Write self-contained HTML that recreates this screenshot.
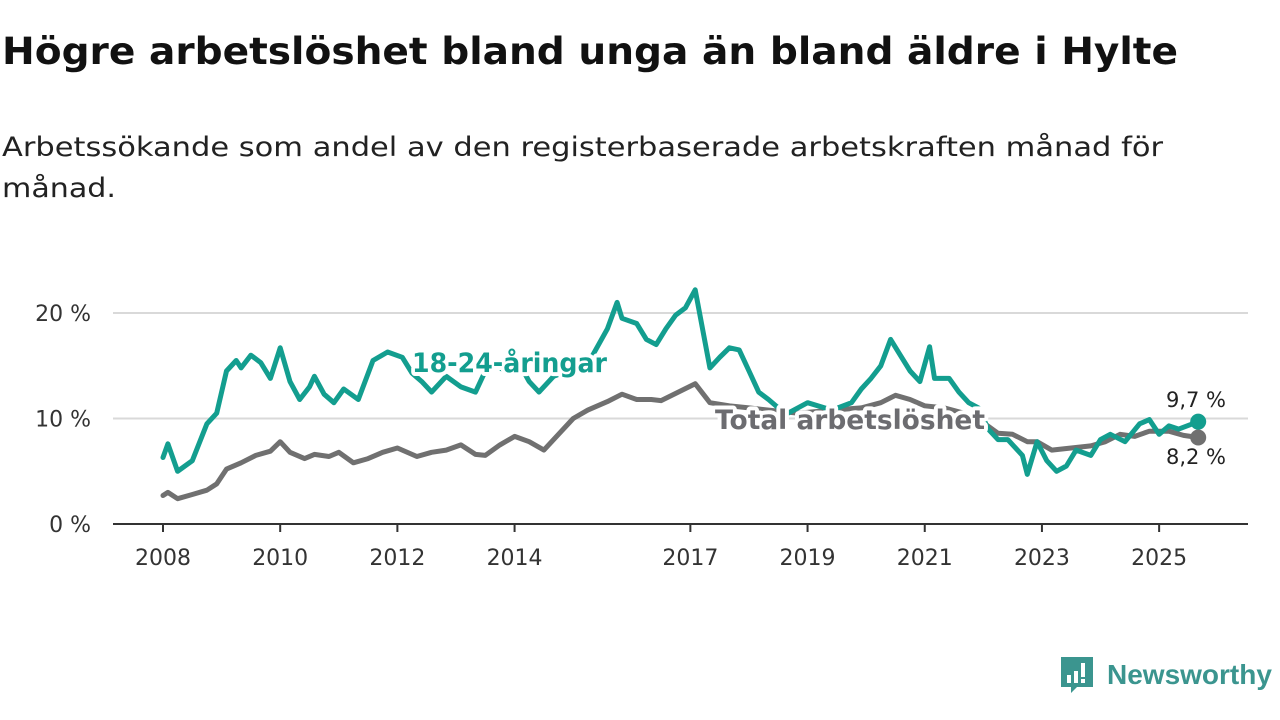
<!DOCTYPE html>
<html><head><meta charset="utf-8"><style>
body{margin:0;width:1280px;height:720px;background:#fff;font-family:"DejaVu Sans","Liberation Sans",sans-serif;overflow:hidden;position:relative}
.fit{position:absolute;left:2px;margin:0;white-space:nowrap;transform-origin:0 0}
#title{top:30px;font-size:37px;font-weight:bold;color:#111}
.sub{font-size:27px;color:#222}
svg{position:absolute;left:0;top:0}
</style></head><body>
<h1 id="title" class="fit" data-target="1176">Högre arbetslöshet bland unga än bland äldre i Hylte</h1>
<p id="sub1" class="fit sub" data-target="1161" style="top:132px">Arbetssökande som andel av den registerbaserade arbetskraften månad för</p>
<p id="sub2" class="fit sub" data-target="114" style="top:173px">månad.</p>
<svg id="chart" width="1280" height="720"></svg>
<script>
const youthMonths=[0,1,3,6,9,11,13,15,16,18,20,22,24,26,28,30,31,33,35,37,40,43,46,49,51,53,55,58,61,64,67,70,72,75,77,80,83,86,88,91,93,94,97,99,101,103,105,107,109,112,114,116,118,120,122,124,126,128,132,137,141,143,145,147,149,151,153,155,157,158,161,163,165,167,169,171,173,176,177,179,181,183,185,187,190,192,194,197,200,202,204,206,208,212];
const youthValues=[6.3,7.6,5.0,6.0,9.5,10.5,14.5,15.5,14.8,16.0,15.3,13.8,16.7,13.5,11.8,13.0,14.0,12.3,11.5,12.8,11.8,15.5,16.3,15.8,14.3,13.5,12.5,14.0,13.0,12.5,15.5,14.5,16.0,13.5,12.5,14.0,14.5,15.0,16.0,18.5,21.0,19.5,19.0,17.5,17.0,18.5,19.8,20.5,22.2,14.8,15.8,16.7,16.5,14.5,12.5,11.8,11.0,10.5,11.5,10.8,11.5,12.8,13.8,15.0,17.5,16.0,14.5,13.5,16.8,13.8,13.8,12.5,11.5,11.0,9.0,8.0,8.0,6.5,4.7,7.8,6.0,5.0,5.5,7.0,6.5,8.0,8.5,7.8,9.5,9.9,8.5,9.3,9.0,9.7];
const totalMonths=[0,1,3,6,9,11,13,16,19,22,24,26,29,31,34,36,39,42,45,48,52,55,58,61,64,66,69,72,75,78,81,84,87,91,94,97,100,102,109,112,116,120,124,130,137,143,147,150,153,156,160,164,168,171,174,177,179,182,186,190,193,196,199,202,206,209,212];
const totalValues=[2.7,3.0,2.4,2.8,3.2,3.8,5.2,5.8,6.5,6.9,7.8,6.8,6.2,6.6,6.4,6.8,5.8,6.2,6.8,7.2,6.4,6.8,7.0,7.5,6.6,6.5,7.5,8.3,7.8,7.0,8.5,10.0,10.8,11.6,12.3,11.8,11.8,11.7,13.3,11.5,11.2,11.0,10.8,10.5,10.8,11.0,11.5,12.2,11.8,11.2,11.0,10.5,9.6,8.6,8.5,7.8,7.8,7.0,7.2,7.4,7.8,8.5,8.3,8.8,8.8,8.4,8.2];
const yTicks=[0,10,20];
const yTickLabels=["0 %","10 %","20 %"];
const xTickYears=[2008,2010,2012,2014,2017,2019,2021,2023,2025];
document.querySelectorAll('.fit').forEach(e=>{const w=e.getBoundingClientRect().width;e.style.transform='scaleX('+(+e.dataset.target/w)+')';});
const NS="http://www.w3.org/2000/svg";
const svg=document.getElementById('chart');
const x0=163, pxPerMonth=4.883, y0=524, pxPerPct=10.55;
const FF='DejaVu Sans, Liberation Sans, sans-serif';
function xs(m){return x0+m*pxPerMonth;}
function xYear(y){return xs((y-2008)*12);}
function ys(v){return y0-v*pxPerPct;}
function el(t,a){const e=document.createElementNS(NS,t);for(const k in a)e.setAttribute(k,a[k]);svg.appendChild(e);return e;}
yTicks.forEach((v,i)=>{
  if(v>0){const g=el('line',{x1:113,x2:1248,y1:ys(v),y2:ys(v),stroke:'#d9d9d9','stroke-width':2});
  
  }
  const t=el('text',{x:91,y:ys(v)+8,'text-anchor':'end','font-size':22,fill:'#333','font-family':FF});
  t.textContent=yTickLabels[i];
  
  
});
const ax=el('line',{x1:113,x2:1248,y1:y0,y2:y0,stroke:'#333','stroke-width':2});


xTickYears.forEach(yr=>{
  const tk=el('line',{x1:xYear(yr),x2:xYear(yr),y1:y0,y2:y0+8,stroke:'#333','stroke-width':2});
  
  
  const t=el('text',{x:xYear(yr),y:565,'text-anchor':'middle','font-size':22,fill:'#333','font-family':FF});
  t.textContent=yr;
  
  
});
function line(ms,vs,color,name){
  const d=ms.map((m,i)=>(i?'L':'M')+xs(m).toFixed(1)+','+ys(vs[i]).toFixed(1)).join('');
  const p=el('path',{d:d,fill:'none',stroke:color,'stroke-width':5,'stroke-linejoin':'round','stroke-linecap':'round'});
  
  
  const n=ms.length-1;
  const c=el('circle',{cx:xs(ms[n]),cy:ys(vs[n]),r:8,fill:color});
  
  
}
line(totalMonths,totalValues,'#707070','total-line');
line(youthMonths,youthValues,'#139e8f','youth-line');
function label(txt,x,y,color,name,size,bold,anchor,len){
  const a={x:x,y:y,'font-size':size,'font-weight':bold?'bold':'normal',fill:color,'text-anchor':anchor||'start',stroke:'#fff','stroke-width':bold?8:0,'paint-order':'stroke','stroke-linejoin':'round','font-family':FF};
  if(len){a.textLength=len;a.lengthAdjust='spacingAndGlyphs';}
  const t=el('text',a);
  t.textContent=txt;
  
  
}
label('18-24-åringar',412,372,'#139e8f','youth-series-label',27,true,'start',195);
label('Total arbetslöshet',715,429,'#6c6c70','total-series-label',27,true,'start',270);
const ny=youthMonths.length-1, nt=totalMonths.length-1;
label(youthValues[ny].toFixed(1).replace('.',',')+' %',1226,407,'#222','youth-end-value',21,false,'end');
label(totalValues[nt].toFixed(1).replace('.',',')+' %',1226,464,'#222','total-end-value',21,false,'end');
</script>
<div style="position:absolute;left:1059px;top:655px;display:flex;align-items:center;font-family:'Liberation Sans',sans-serif">
  <svg width="36" height="40" viewBox="0 0 36 40" style="position:static">
    <path d="M2 2h32v30H18l-6 6v-6H2z" fill="#3b958f"/>
    <rect x="8" y="20" width="4" height="8" fill="#fff"/><rect x="15" y="16" width="4" height="12" fill="#fff"/><rect x="22" y="8" width="4" height="14" fill="#fff"/><rect x="22" y="24" width="4" height="4" fill="#fff"/>
  </svg>
  <span style="font-size:28px;font-weight:bold;color:#3b958f;margin-left:12px">Newsworthy</span>
</div>
</body></html>
